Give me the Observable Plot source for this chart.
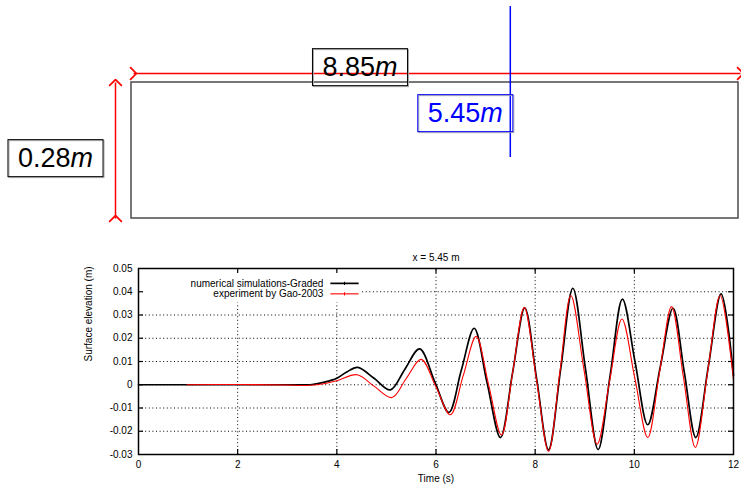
<!DOCTYPE html>
<html>
<head>
<meta charset="utf-8">
<script src="https://cdn.jsdelivr.net/npm/d3@7"></script>
<script src="https://cdn.jsdelivr.net/npm/@observablehq/plot@0.6"></script>
<style>
  body { margin: 0; background: #fff; }
  #chart { width: 741px; height: 487px; position: relative; background: #fff; }
  #chart svg { display: block; }
</style>
</head>
<body>
<div id="chart"></div>
<script>
// ---- Schematic (flume) dimensions, metres ----
const tankLength = 8.85;
const tankDepth = 0.28;
const gaugePosition = 5.45;
const dimLabels = ["8.85", "0.28", "5.45"];
const dimUnit = "m";

// ---- Time series ----
const simTime = [0, 1, 2, 3, 3.5, 3.75, 4.0, 4.2, 4.42, 4.75, 5.08, 5.37, 5.67, 5.98, 6.26, 6.51, 6.77, 7.03, 7.30, 7.545, 7.79, 8.03, 8.27, 8.515, 8.76, 9.015, 9.27, 9.515, 9.76, 10.015, 10.27, 10.525, 10.78, 11.01, 11.24, 11.495, 11.75, 12.0];
const simElev = [0, 0, 0, 0, 0.0001, 0.0011, 0.0028, 0.0055, 0.0075, 0.0028, -0.0022, 0.0066, 0.0154, 0.0010, -0.0119, 0.0062, 0.0243, 0.0008, -0.0227, 0.0052, 0.0331, 0.0025, -0.0280, 0.0068, 0.0415, 0.0068, -0.0279, 0.0045, 0.0368, 0.0098, -0.0172, 0.0079, 0.0329, 0.0051, -0.0227, 0.0082, 0.0391, 0.0040];

const expTime = [0.98, 2, 3, 3.4, 3.7, 4.0, 4.41, 4.75, 5.11, 5.4, 5.70, 6.0, 6.29, 6.55, 6.81, 7.065, 7.32, 7.55, 7.78, 8.025, 8.27, 8.495, 8.72, 8.985, 9.25, 9.5, 9.75, 10.01, 10.27, 10.51, 10.75, 10.99, 11.23, 11.48, 11.73, 12.0];
const expElev = [0, 0.0001, -0.0001, -0.0003, 0.0003, 0.0017, 0.0043, -0.0006, -0.0055, 0.0027, 0.0109, -0.0010, -0.0129, 0.0040, 0.0208, -0.0004, -0.0216, 0.0058, 0.0333, 0.0023, -0.0287, 0.0049, 0.0384, 0.0064, -0.0256, 0.0014, 0.0283, 0.0028, -0.0227, 0.0055, 0.0336, 0.0033, -0.0270, 0.0057, 0.0384, 0.0020];

const seriesNames = ["numerical simulations-Graded", "experiment by Gao-2003"];
const seriesColors = ["#000000", "#ff0000"];

const xTicks = [0, 2, 4, 6, 8, 10, 12];
const xTickLabels = ["0", "2", "4", "6", "8", "10", "12"];
const yTicks = [-0.03, -0.02, -0.01, 0, 0.01, 0.02, 0.03, 0.04, 0.05];
const yTickLabels = ["-0.03", "-0.02", "-0.01", "0", "0.01", "0.02", "0.03", "0.04", "0.05"];

const chartTitle = "x = 5.45 m";
const xLabel = "Time (s)";
const yLabel = "Surface elevation (m)";

const FONT = "'Liberation Sans', Arial, Helvetica, sans-serif";

// ---------------- Top: schematic ----------------
const topPlot = Plot.plot({
  width: 741,
  height: 235,
  marginLeft: 131, marginRight: 3, marginTop: 82, marginBottom: 17,
  x: { domain: [0, tankLength], axis: null },
  y: { domain: [0, tankDepth], axis: null },
  style: { fontFamily: FONT, background: "white", overflow: "visible" },
  marks: [
    Plot.rect([{ x1: 0, x2: tankLength, y1: 0, y2: tankDepth }], {
      x1: "x1", x2: "x2", y1: "y1", y2: "y2",
      fill: "none", stroke: "#555", strokeWidth: 1.6
    }),
    Plot.link([tankLength], {
      x1: 0, x2: d => d, y1: tankDepth, y2: tankDepth,
      dx: 2, dy: -9, stroke: "red", strokeWidth: 1.5, marker: "arrow"
    }),
    Plot.link([tankDepth], {
      x1: 0, x2: 0, y1: 0, y2: d => d,
      dx: -16, stroke: "red", strokeWidth: 1.5, marker: "arrow"
    }),
    Plot.ruleX([gaugePosition], {
      y1: 0.1256, y2: 0.4365, dx: 5, stroke: "blue", strokeWidth: 1.5
    }),
    Plot.text([dimLabels[0]], {
      x: tankLength / 2, y: tankDepth, dx: -75, dy: -15,
      fontSize: 27, fill: "black"
    }),
    Plot.text([dimLabels[1]], {
      x: 0, y: tankDepth / 2, dx: -76, dy: 8,
      fontSize: 27, fill: "black"
    }),
    Plot.text([dimLabels[2]], {
      x: gaugePosition, y: tankDepth, dx: -40, dy: 31,
      fontSize: 27, fill: "blue"
    })
  ]
});

// ---------------- Bottom: time series ----------------
const sim = simTime.map((t, i) => ({ t, v: simElev[i] }));
const exp = expTime.map((t, i) => ({ t, v: expElev[i] }));
const plotW = 741 - 138 - 8;
const plotH = 252 - 33 - 33;
const legendY = [0.0436, 0.0391];

const bottomPlot = Plot.plot({
  width: 741,
  height: 252,
  marginLeft: 138, marginRight: 8, marginTop: 33, marginBottom: 33,
  x: { domain: [0, 12] },
  y: { domain: [-0.03, 0.05] },
  style: { fontFamily: FONT, fontSize: "10px", color: "#000", background: "white", overflow: "visible" },
  marks: [
    // dotted grid (interrupted by the key box in the upper-left corner)
    Plot.ruleY(yTicks.slice(1, -1), {
      x1: d => (d === 0.04 ? 4.52 : 0), x2: 12,
      stroke: "#000", strokeWidth: 1, strokeDasharray: "1,2.6"
    }),
    Plot.ruleX(xTicks.slice(1, -1), {
      y1: -0.03, y2: d => (d <= 4 ? 0.0352 : 0.05),
      stroke: "#000", strokeWidth: 1, strokeDasharray: "1,2.6"
    }),
    // inward ticks on all sides
    Plot.ruleY(yTicks.slice(1, -1), { insetRight: plotW - 5, stroke: "#000", strokeWidth: 1.2 }),
    Plot.ruleY(yTicks.slice(1, -1), { insetLeft: plotW - 5, stroke: "#000", strokeWidth: 1.2 }),
    Plot.ruleX(xTicks.slice(1, -1), { insetTop: plotH - 5, stroke: "#000", strokeWidth: 1.2 }),
    Plot.ruleX(xTicks.slice(1, -1), { insetBottom: plotH - 5, stroke: "#000", strokeWidth: 1.2 }),
    // axes labels
    Plot.axisX(xTicks, {
      tickSize: 0, tickPadding: 6, label: null,
      tickFormat: d => xTickLabels[xTicks.indexOf(d)]
    }),
    Plot.axisY(yTicks, {
      tickSize: 0, tickPadding: 6, label: null,
      tickFormat: d => yTickLabels[yTicks.indexOf(d)]
    }),
    // series
    Plot.line(sim, { x: "t", y: "v", stroke: seriesColors[0], strokeWidth: 1.7, curve: "catmull-rom" }),
    Plot.line(exp, { x: "t", y: "v", stroke: seriesColors[1], strokeWidth: 1.1, curve: "catmull-rom" }),
    // key
    Plot.text(seriesNames, {
      x: 3.73, y: (d, i) => legendY[i], textAnchor: "end", fill: "#000", fontSize: 10
    }),
    Plot.link(seriesNames, {
      x1: 3.87, x2: 4.44, y1: (d, i) => legendY[i], y2: (d, i) => legendY[i],
      stroke: (d, i) => seriesColors[i], strokeWidth: (d, i) => (i === 0 ? 1.7 : 1.1)
    }),
    Plot.link(seriesNames, {
      x1: 4.155, x2: 4.155, y1: (d, i) => legendY[i] - 0.0007, y2: (d, i) => legendY[i] + 0.0007,
      stroke: (d, i) => seriesColors[i], strokeWidth: 1
    }),
    Plot.frame({ stroke: "#000", strokeWidth: 1.5 }),
    // titles
    Plot.text([chartTitle], { frameAnchor: "top", dy: -15, fill: "#000", fontSize: 10 }),
    Plot.text([xLabel], { frameAnchor: "bottom", dy: 27, fill: "#000", fontSize: 10 }),
    Plot.text([yLabel], { frameAnchor: "left", rotate: -90, dx: -50, fill: "#000", fontSize: 10 })
  ]
});

const chart = document.getElementById("chart");
chart.appendChild(topPlot);
chart.appendChild(bottomPlot);

// larger open arrowheads on the dimension arrows
d3.select(topPlot).selectAll("marker")
  .attr("markerWidth", 13)
  .attr("markerHeight", 13)
  .attr("stroke-width", 0.9);

// italic unit and framed boxes for the dimension labels
d3.select(topPlot).selectAll("text").each(function () {
  const text = d3.select(this);
  text.append("tspan").attr("font-style", "italic").text(dimUnit);
  const bb = this.getBBox();
  const color = text.attr("fill") || d3.select(this.parentNode).attr("fill") || "black";
  const padX = 10, padY = 3.5;
  const parent = this.parentNode;
  const tr = this.getAttribute("transform");
  const mk = (dx, stroke) => {
    const r = document.createElementNS("http://www.w3.org/2000/svg", "rect");
    r.setAttribute("x", bb.x - padX + dx);
    r.setAttribute("y", bb.y - padY + dx);
    r.setAttribute("width", bb.width + 2 * padX);
    r.setAttribute("height", bb.height + 2 * padY);
    r.setAttribute("fill", "none");
    r.setAttribute("stroke", stroke);
    r.setAttribute("stroke-width", 1);
    if (tr) r.setAttribute("transform", tr);
    parent.insertBefore(r, this);
  };
  mk(1, "#aaa");
  mk(0, color === "blue" ? "blue" : "black");
});
</script>
</body>
</html>
